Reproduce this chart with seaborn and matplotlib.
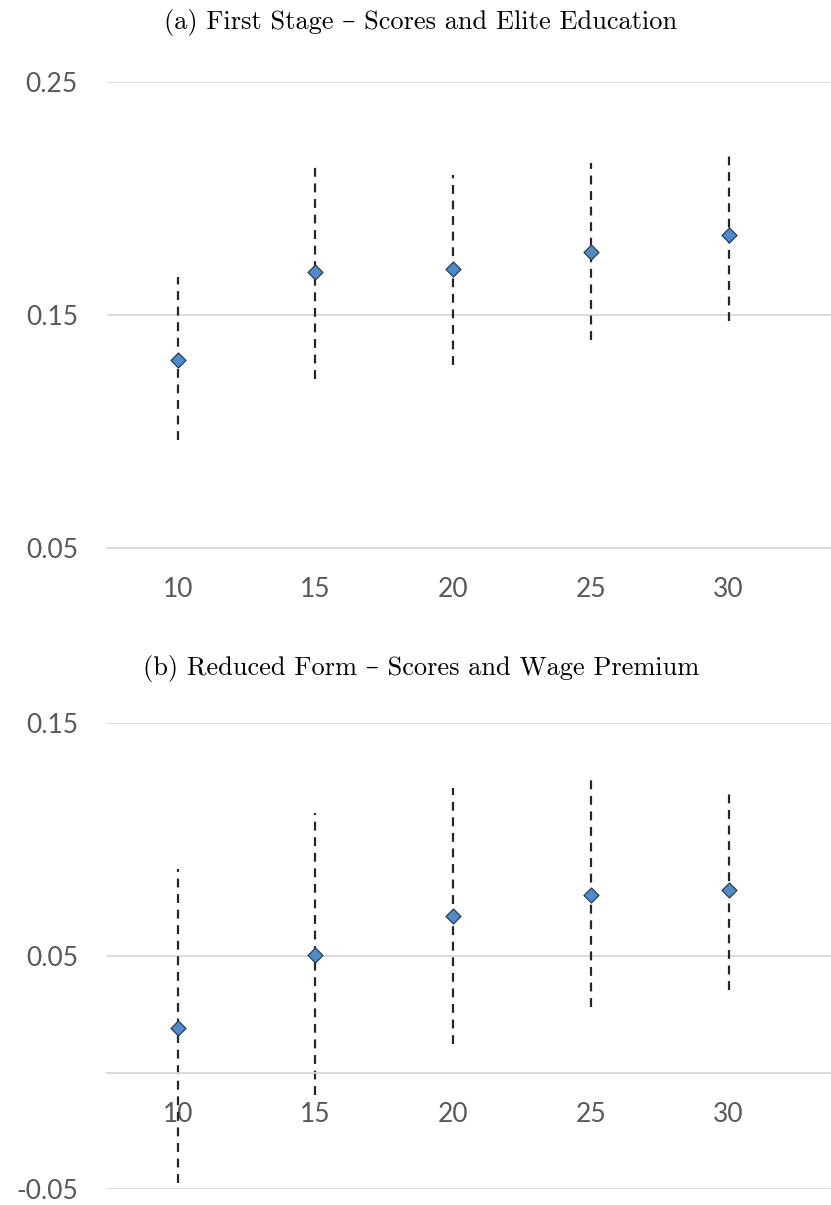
import matplotlib
matplotlib.use("Agg")
import matplotlib.pyplot as plt
import seaborn as sns

# Score cutoffs and estimated coefficients with confidence bounds
scores = [10, 15, 20, 25, 30]

first_stage_coef = [0.1308, 0.1684, 0.1697, 0.1771, 0.1841]
first_stage_lo = [0.0966, 0.1225, 0.1286, 0.1393, 0.1474]
first_stage_hi = [0.1665, 0.2152, 0.2100, 0.2150, 0.2204]

reduced_coef = [0.0191, 0.0504, 0.0671, 0.0763, 0.0782]
reduced_lo = [-0.0474, -0.0097, 0.0124, 0.0283, 0.0355]
reduced_hi = [0.0875, 0.1114, 0.1218, 0.1253, 0.1212]

title_a = "(a) First Stage \u2013 Scores and Elite Education"
title_b = "(b) Reduced Form \u2013 Scores and Wage Premium"
yticks_a = [0.05, 0.15, 0.25]
yticks_b = [-0.05, 0.05, 0.15]

sns.set_theme(style="white")
plt.rcParams["font.family"] = ["Lato", "DejaVu Sans"]

GRID = "#d9d9d9"
LABEL = "#595959"
FILL = "#4f8bc9"
EDGE = "#2b3f55"

W, H = 831, 1205
fig = plt.figure(figsize=(W / 100, H / 100), dpi=100)

ax_a = fig.add_axes([107 / W, 1 - 548.3 / H, 724 / W, 466.6 / H])
ax_b = fig.add_axes([107 / W, 1 - 1189.3 / H, 724 / W, 466.6 / H])


def draw_panel(ax, coef, lo, hi, ylim, yticks, axis_at):
    ax.vlines(scores, lo, hi, colors="#262626", linestyles=(0, (4, 3)),
              linewidth=1.6, zorder=2)
    sns.scatterplot(x=scores, y=coef, ax=ax, marker="D", s=58, color=FILL,
                    edgecolor=EDGE, linewidth=0.9, zorder=3, legend=False)
    ax.set_xlim(7.43, 33.72)
    ax.set_ylim(*ylim)
    ax.set_yticks(yticks)
    ax.set_yticklabels([f"{t:.2f}" for t in yticks])
    ax.set_xticks(scores)
    ax.set_xticklabels([str(s) for s in scores])
    ax.yaxis.grid(True, color=GRID, linewidth=1.3)
    ax.set_axisbelow(True)
    for side in ("top", "right", "left"):
        ax.spines[side].set_visible(False)
    ax.spines["bottom"].set_position(("data", axis_at))
    ax.spines["bottom"].set_color(GRID)
    ax.spines["bottom"].set_linewidth(1.3)
    ax.tick_params(axis="both", length=0, labelsize=19, labelcolor=LABEL)
    ax.tick_params(axis="y", pad=21)
    ax.tick_params(axis="x", pad=21)
    ax.set_xlabel("")
    ax.set_ylabel("")


draw_panel(ax_a, first_stage_coef, first_stage_lo, first_stage_hi,
           (0.05, 0.25), yticks_a, 0.05)
draw_panel(ax_b, reduced_coef, reduced_lo, reduced_hi,
           (-0.05, 0.15), yticks_b, 0.0)

serif = ["cmr10", "DejaVu Serif"]
fig.text(421 / W, 1 - 22 / H, title_a, ha="center", va="center",
         family=serif, fontsize=19, color="black")
fig.text(421 / W, 1 - 668 / H, title_b, ha="center", va="center",
         family=serif, fontsize=19, color="black")

fig.savefig("out.png", dpi=100)
